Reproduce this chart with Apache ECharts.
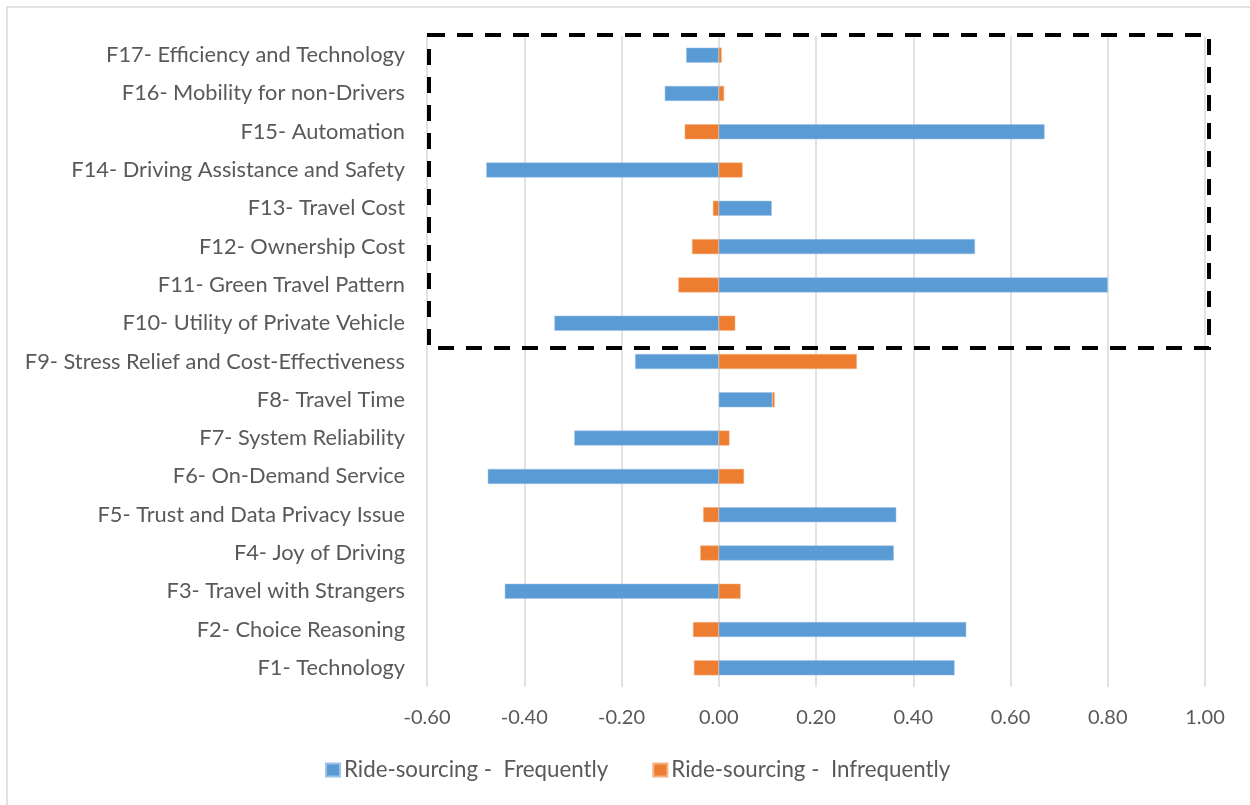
<!DOCTYPE html>
<html><head><meta charset="utf-8">
<script src="https://cdn.jsdelivr.net/npm/echarts@6/dist/echarts.min.js"></script>
<style>html,body{margin:0;padding:0;background:#fff}#c{width:1250px;height:805px}</style>
</head><body><div id="c"></div>
<script>
const categories = [
  "F1- Technology","F2- Choice Reasoning","F3- Travel with Strangers","F4- Joy of Driving",
  "F5- Trust and Data Privacy Issue","F6- On-Demand Service","F7- System Reliability","F8- Travel Time",
  "F9- Stress Relief and Cost-Effectiveness","F10- Utility of Private Vehicle","F11- Green Travel Pattern",
  "F12- Ownership Cost","F13- Travel Cost","F14- Driving Assistance and Safety","F15- Automation",
  "F16- Mobility for non-Drivers","F17- Efficiency and Technology"
];
const frequently = [0.485,0.509,-0.440,0.360,0.365,-0.475,-0.297,0.110,-0.172,-0.338,0.800,0.527,0.109,-0.478,0.670,-0.111,-0.067];
const infrequently = [-0.051,-0.053,0.045,-0.038,-0.032,0.052,0.022,0.005,0.284,0.034,-0.083,-0.055,-0.012,0.049,-0.070,0.011,0.006];
const seriesNames = ["Ride-sourcing -  Frequently","Ride-sourcing -  Infrequently"];
const FONT = "Lato";
const chart = echarts.init(document.getElementById('c'));
chart.setOption({
  backgroundColor:'#ffffff',
  animation:false,
  textStyle:{fontFamily:FONT},
  grid:{left:427,right:45,top:36,bottom:118,containLabel:false},
  xAxis:{type:'value',min:-0.6,max:1.0,interval:0.2,
    axisLabel:{formatter:v=>v.toFixed(2),color:'#595959',fontSize:20,fontFamily:FONT,margin:21},
    axisLine:{show:false},axisTick:{show:false},
    splitLine:{show:true,lineStyle:{color:'#d9d9d9',width:1.5}}},
  yAxis:{type:'category',data:categories,
    axisLabel:{color:'#595959',fontSize:21.8,fontFamily:FONT,margin:22},
    axisLine:{show:false},axisTick:{show:false},splitLine:{show:false}},
  legend:{bottom:19,left:320,itemWidth:14,itemHeight:13,itemGap:44,icon:'rect',
    textStyle:{color:'#595959',fontSize:22.3,fontFamily:FONT,padding:[0,0,0,-1]},
    data:seriesNames},
  series:[
    {name:seriesNames[0],type:'bar',stack:'s',data:frequently,barWidth:15,
      itemStyle:{color:'#5B9BD5',borderColor:'#9dc3e6',borderWidth:0.5}},
    {name:seriesNames[1],type:'bar',stack:'s',data:infrequently,barWidth:15,
      itemStyle:{color:'#ED7D31',borderColor:'#f4b183',borderWidth:0.5}}
  ],
  graphic:[
    {type:'rect',silent:true,z:-1,shape:{x:7,y:7,width:1400,height:1000},
      style:{fill:null,stroke:'#d9d9d9',lineWidth:1.5}},
    {type:'rect',silent:true,z:100,shape:{x:429,y:35,width:780,height:313},
      style:{fill:null,stroke:'#000000',lineWidth:4,lineDash:[16,12]}}
  ]
});
</script></body></html>
